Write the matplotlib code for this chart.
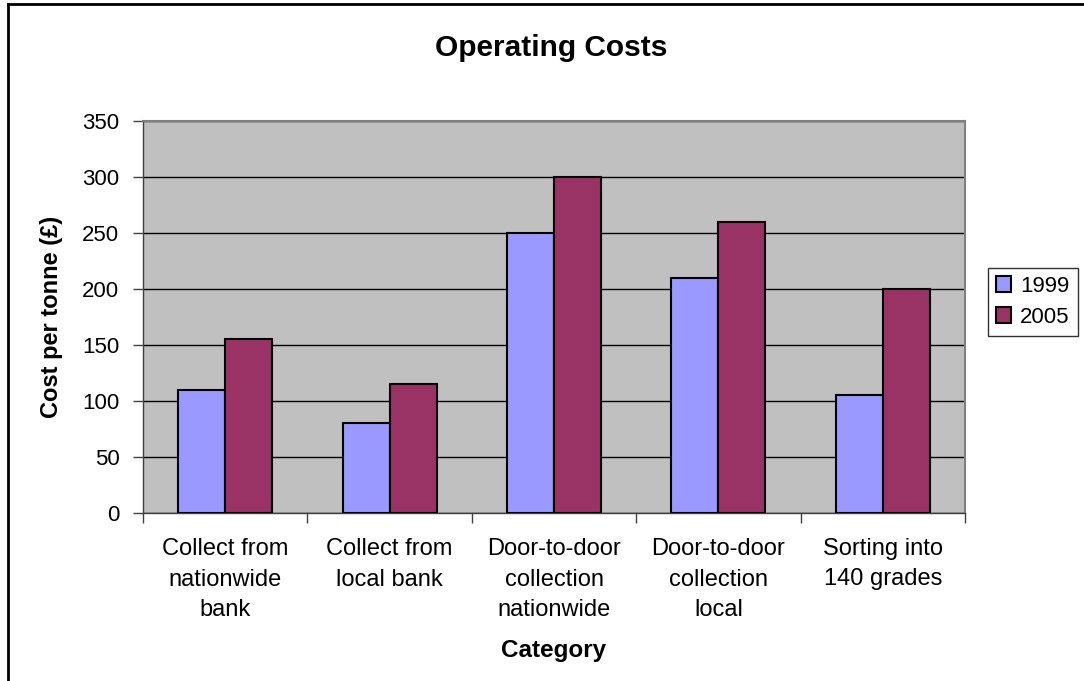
import matplotlib.pyplot as plt
import numpy as np
from matplotlib.lines import Line2D

plt.rcParams['font.family'] = ['Liberation Sans', 'DejaVu Sans']

categories = ["Collect from\nnationwide\nbank", "Collect from\nlocal bank",
              "Door-to-door\ncollection\nnationwide", "Door-to-door\ncollection\nlocal",
              "Sorting into\n140 grades"]
costs_1999 = [110, 80, 250, 210, 105]
costs_2005 = [155, 115, 300, 260, 200]
years = ["1999", "2005"]

fig = plt.figure(figsize=(10.84, 6.81), dpi=100)
ax = fig.add_axes([143 / 1084, 1 - 513 / 681, 822 / 1084, 392 / 681])

x = np.arange(len(categories))
w = 1 / 3.5
ax.bar(x - w / 2, costs_1999, w, color="#9999FF", edgecolor="black", linewidth=1.5,
       label=years[0], zorder=3)
ax.bar(x + w / 2, costs_2005, w, color="#993366", edgecolor="black", linewidth=1.5,
       label=years[1], zorder=3)

ax.set_facecolor("#C0C0C0")
ax.set_xlim(-0.5, len(categories) - 0.5)
ax.set_ylim(0, 350)
ax.set_yticks(np.arange(0, 351, 50))
ax.yaxis.grid(True, color="black", linewidth=1, zorder=1)
ax.set_axisbelow(True)

ax.set_xticks(np.arange(-0.5, len(categories), 1))
ax.set_xticklabels([])
ax.set_xticks(x, minor=True)
ax.set_xticklabels(categories, minor=True, fontsize=17, linespacing=1.5)
ax.tick_params(axis="x", which="minor", length=0, pad=18)
ax.tick_params(axis="x", which="major", length=7, width=1, color="#404040")
ax.tick_params(axis="y", length=7, width=1, labelsize=16, pad=10, color="#404040")

for side in ["top", "right"]:
    ax.spines[side].set_color("#808080")
    ax.spines[side].set_linewidth(1.5)
for side in ["left", "bottom"]:
    ax.spines[side].set_color("#404040")
    ax.spines[side].set_linewidth(1)

ax.set_xlabel("Category", fontsize=17.5, fontweight="bold", labelpad=13)
ax.set_ylabel("Cost per tonne (£)", fontsize=17, fontweight="bold", labelpad=14)
fig.text(551 / 1084, 1 - 48 / 681, "Operating Costs", ha="center", va="center",
         fontsize=21.5, fontweight="bold")

leg = ax.legend(loc="upper left", bbox_to_anchor=(988 / 1084, 1 - 268 / 681),
                bbox_transform=fig.transFigure, fontsize=16, frameon=True,
                fancybox=False, edgecolor="black", handlelength=0.7, handleheight=0.7,
                handletextpad=0.4, borderpad=0.35, labelspacing=0.45, borderaxespad=0)
leg.get_frame().set_linewidth(1)

# chart area border (only top and left visible in the reference)
fig.add_artist(Line2D([8 / 1084, 1], [1 - 4 / 681, 1 - 4 / 681], color="black",
                      linewidth=2, transform=fig.transFigure))
fig.add_artist(Line2D([8 / 1084, 8 / 1084], [0, 1 - 4 / 681], color="black",
                      linewidth=2, transform=fig.transFigure))

fig.savefig("out.png", dpi=100)
